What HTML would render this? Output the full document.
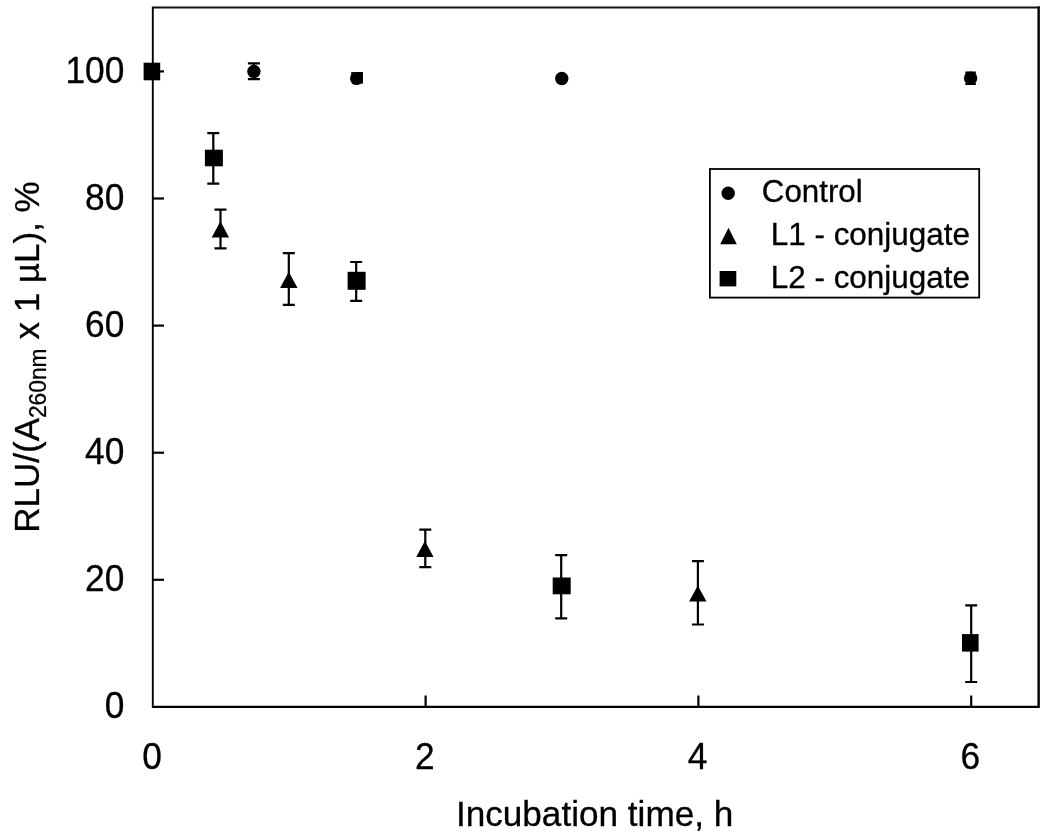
<!DOCTYPE html>
<html><head><meta charset="utf-8"><title>Chart</title>
<style>
html,body{margin:0;padding:0;background:#fff;}
svg{display:block;}
text{font-family:"Liberation Sans",Arial,sans-serif;fill:#000;stroke:#000;stroke-width:0.3px;}
</style></head><body>
<svg width="1050" height="837" viewBox="0 0 1050 837">
<rect width="1050" height="837" fill="#fff"/>
<path d="M1038.65 6.4V706.9M151.9 706.9H1039.85" fill="none" stroke="#000" stroke-width="2.4"/>
<path d="M151.9 7.45H1039.85" fill="none" stroke="#111" stroke-width="2.1"/>
<path d="M152.8 7.45V706.9" fill="none" stroke="#000" stroke-width="1.9"/>
<line x1="152.8" y1="579.8" x2="164.0" y2="579.8" stroke="#000" stroke-width="2.2"/>
<line x1="152.8" y1="452.7" x2="164.0" y2="452.7" stroke="#000" stroke-width="2.2"/>
<line x1="152.8" y1="325.6" x2="164.0" y2="325.6" stroke="#000" stroke-width="2.2"/>
<line x1="152.8" y1="198.5" x2="164.0" y2="198.5" stroke="#000" stroke-width="2.2"/>
<line x1="152.8" y1="71.4" x2="164.0" y2="71.4" stroke="#000" stroke-width="2.2"/>
<line x1="425.6" y1="706.9" x2="425.6" y2="695.5" stroke="#000" stroke-width="2.2"/>
<line x1="698.4" y1="706.9" x2="698.4" y2="695.5" stroke="#000" stroke-width="2.2"/>
<line x1="971.2" y1="706.9" x2="971.2" y2="695.5" stroke="#000" stroke-width="2.2"/>
<text transform="translate(124.3,718.0) scale(1,1.03)" font-size="35.3" text-anchor="end">0</text>
<text transform="translate(124.3,590.9) scale(1,1.03)" font-size="35.3" text-anchor="end">20</text>
<text transform="translate(124.3,463.8) scale(1,1.03)" font-size="35.3" text-anchor="end">40</text>
<text transform="translate(124.3,336.7) scale(1,1.03)" font-size="35.3" text-anchor="end">60</text>
<text transform="translate(124.3,209.6) scale(1,1.03)" font-size="35.3" text-anchor="end">80</text>
<text transform="translate(124.3,82.5) scale(1,1.03)" font-size="35.3" text-anchor="end">100</text>
<text transform="translate(152.0,768.6) scale(1,1.03)" font-size="35.3" text-anchor="middle">0</text>
<text transform="translate(424.8,768.6) scale(1,1.03)" font-size="35.3" text-anchor="middle">2</text>
<text transform="translate(697.6,768.6) scale(1,1.03)" font-size="35.3" text-anchor="middle">4</text>
<text transform="translate(970.4,768.6) scale(1,1.03)" font-size="35.3" text-anchor="middle">6</text>
<text x="594.6" y="825.6" font-size="35.15" text-anchor="middle">Incubation time, h</text>
<g transform="translate(39.2,532.75) rotate(-90)"><text x="0" y="0" font-size="35">RLU/(A</text><text transform="translate(114.7,6.9) scale(0.932,1)" font-size="24.4">260nm</text><text x="193.2" y="0" font-size="35">x 1 µL), %</text></g>
<path d="M253.9 63.4V79.2M247.9 63.4H259.9M247.9 79.2H259.9" stroke="#000" stroke-width="2.2" fill="none"/>
<circle cx="253.9" cy="71.5" r="6.7" fill="#000"/>
<circle cx="356.5" cy="78.6" r="6.5" fill="#000"/>
<rect x="351.2" y="72.1" width="11.8" height="3" fill="#000"/><rect x="356.5" y="72.1" width="6.5" height="11.5" fill="#000"/>
<circle cx="561.8" cy="78.5" r="6.7" fill="#000"/>
<path d="M970.6 72.5V83.9M965.3 72.5H975.9M965.3 83.9H975.9" stroke="#000" stroke-width="2.2" fill="none"/>
<circle cx="970.6" cy="78.1" r="6.7" fill="#000"/>
<path d="M220.5 209.7V248.3M214.5 209.7H226.5M214.5 248.3H226.5" stroke="#000" stroke-width="2.2" fill="none"/>
<path d="M220.4 221.3L229.1 237.5H211.7Z" fill="#000"/>
<path d="M288.8 253.2V304.8M282.8 253.2H294.8M282.8 304.8H294.8" stroke="#000" stroke-width="2.2" fill="none"/>
<path d="M288.8 271.7L297.5 287.9H280.1Z" fill="#000"/>
<path d="M425.3 529.6V567.1M419.3 529.6H431.3M419.3 567.1H431.3" stroke="#000" stroke-width="2.2" fill="none"/>
<path d="M424.9 540.9L433.6 557.1H416.2Z" fill="#000"/>
<path d="M697.9 561.1V624.5M691.9 561.1H703.9M691.9 624.5H703.9" stroke="#000" stroke-width="2.2" fill="none"/>
<path d="M697.8 585.4L706.5 601.6H689.1Z" fill="#000"/>
<rect x="143.6" y="62.7" width="16.6" height="17.6" fill="#000"/>
<path d="M213.3 133.1V183.6M207.3 133.1H219.3M207.3 183.6H219.3" stroke="#000" stroke-width="2.2" fill="none"/>
<rect x="204.9" y="149.7" width="18" height="16.6" fill="#000"/>
<path d="M356.2 262.0V300.9M350.2 262.0H362.2M350.2 300.9H362.2" stroke="#000" stroke-width="2.2" fill="none"/>
<rect x="347.6" y="271.8" width="18" height="18" fill="#000"/>
<path d="M561.2 555.1V618.4M555.2 555.1H567.2M555.2 618.4H567.2" stroke="#000" stroke-width="2.2" fill="none"/>
<rect x="552.7" y="577.5" width="18" height="16.8" fill="#000"/>
<path d="M971.2 605.4V682.0M965.2 605.4H977.2M965.2 682.0H977.2" stroke="#000" stroke-width="2.2" fill="none"/>
<rect x="962.0" y="634.1" width="16.6" height="17.5" fill="#000"/>
<rect x="709.9" y="169" width="269.3" height="128.6" fill="#fff" stroke="#000" stroke-width="1.8"/>
<circle cx="728.2" cy="193.2" r="6.7" fill="#000"/>
<path d="M728.5 227.8L736.8 244.2H720.2Z" fill="#000"/>
<rect x="719.6" y="271.0" width="16.7" height="15.4" fill="#000"/>
<text x="761.8" y="202.1" font-size="30.5" textLength="100.9" lengthAdjust="spacingAndGlyphs">Control</text>
<text x="770.8" y="245.4" font-size="30.5" textLength="199.1" lengthAdjust="spacingAndGlyphs">L1 - conjugate</text>
<text x="770.8" y="288.4" font-size="30.5" textLength="199.1" lengthAdjust="spacingAndGlyphs">L2 - conjugate</text>
</svg>
</body></html>
